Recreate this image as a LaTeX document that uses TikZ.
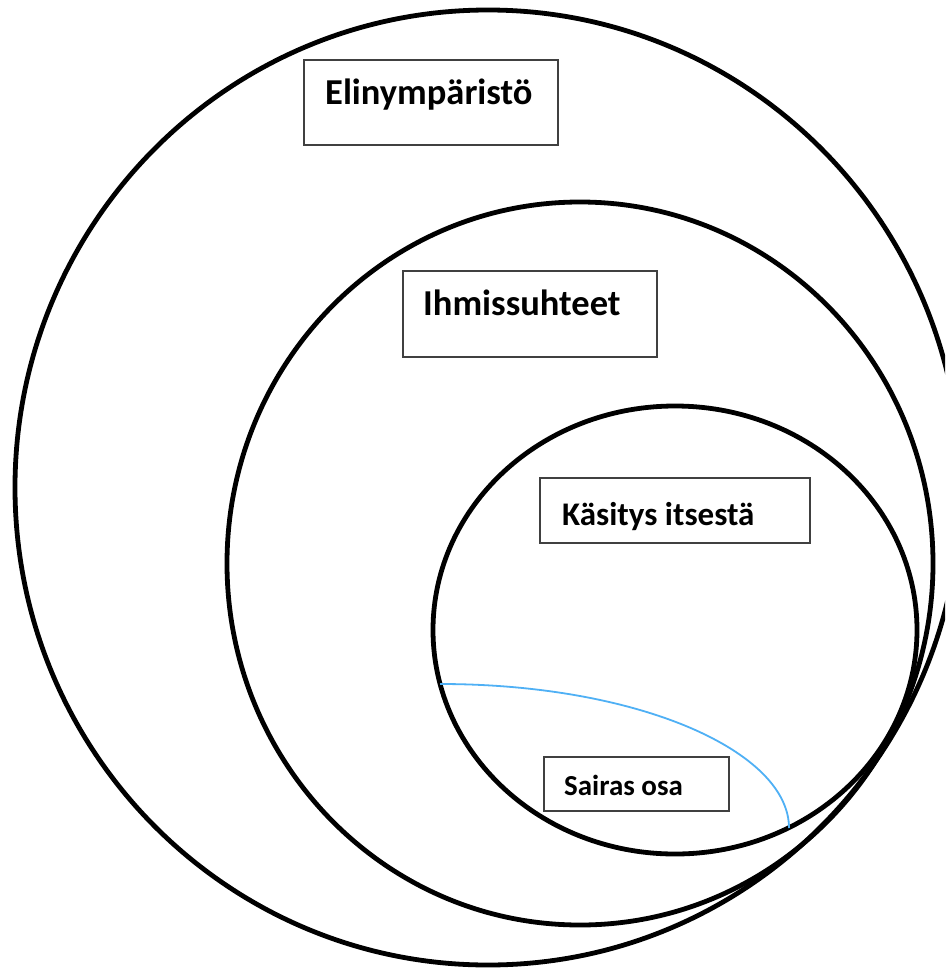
\documentclass[tikz,border=0pt]{standalone}
\usepackage{fontspec}
\setmainfont{Carlito}
\definecolor{boxgray}{HTML}{404040}
\definecolor{sickblue}{HTML}{4FB0F5}
\begin{document}
\begin{tikzpicture}[x=1pt,y=-1pt,
  ring/.style={draw=black,line width=4.8pt},
  labelbox/.style={draw=boxgray,line width=1.3pt,fill=white,inner sep=0pt},
  labeltext/.style={font=\bfseries\fontsize{36.5}{42}\selectfont,anchor=base west,inner sep=0pt},
  midtext/.style={font=\bfseries\fontsize{33}{40}\selectfont,anchor=base west,inner sep=0pt},
  smalltext/.style={font=\bfseries\fontsize{29}{34}\selectfont,anchor=base west,inner sep=0pt}]
\useasboundingbox (0,0) rectangle (945,969);
\clip (0,0) rectangle (945,969);
\fill[white] (0,0) rectangle (945,969);
% rings
\draw[ring] (488,487.5) ellipse [x radius=473, y radius=477.5];
\draw[ring] (580,563.5) ellipse [x radius=353, y radius=361.5];
\draw[ring] (675,630) ellipse [x radius=242, y radius=224];
% boxes
\node[labelbox,minimum width=254pt,minimum height=85pt] (b1) at (431,102.5) {};
\node[labeltext] (t1) at (325,104) {Elinympäristö};
\node[labelbox,minimum width=254pt,minimum height=86pt] (b2) at (530,314) {};
\node[labeltext] (t2) at (423,315) {Ihmissuhteet};
\node[labelbox,minimum width=270pt,minimum height=65pt] (b3) at (675,510.5) {};
\node[midtext] (t3) at (562,525) {Käsitys itsestä};
% sick part
\coordinate (s1) at (440,684);
\coordinate (s2) at (789,828);
\draw[sickblue,line width=1.8pt] (s1) .. controls (640,684) and (789,752) .. (s2);
\node[labelbox,minimum width=185pt,minimum height=54pt] (b4) at (636.5,784) {};
\node[smalltext] (t4) at (564,795) {Sairas osa};
\end{tikzpicture}
\end{document}
